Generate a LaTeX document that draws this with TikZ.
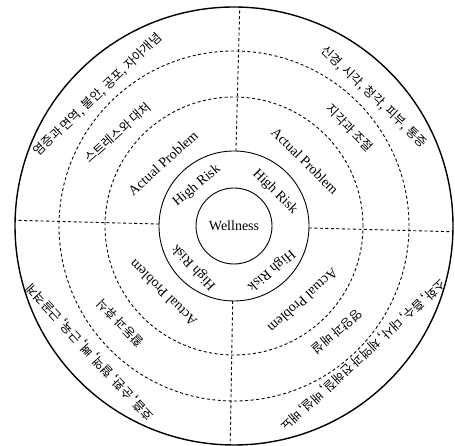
\documentclass[tikz,border=0pt]{standalone}
\usepackage{fontspec}
\setmainfont{Liberation Serif}
\newfontfamily\krfont{Noto Sans CJK KR}
\usetikzlibrary{positioning}

\begin{document}
\begin{tikzpicture}[x=1pt, y=1pt,
  ring/.style={draw, line width=0.9pt},
  outerring/.style={draw, line width=1.4pt},
  dashring/.style={draw, line width=0.9pt, dash pattern=on 3pt off 2.5pt},
  divider/.style={line width=0.9pt, dash pattern=on 3pt off 2.5pt},
  en/.style={font=\fontsize{14}{16}\selectfont, inner sep=0pt},
  kr/.style={font=\krfont\fontsize{12.5}{14}\selectfont, inner sep=0pt}
]
\useasboundingbox (0,0) rectangle (455,446);
\coordinate (c) at (234,220);

% Rings
\draw[outerring] (c) circle[radius=219];
\draw[dashring] (c) circle[radius=175];
\draw[dashring] (c) circle[radius=129];
\draw[ring] (c) circle[radius=75];
\draw[ring] (c) circle[radius=38];

% Quadrant dividers
\foreach \a in {88.5, 178.5, 269, -1.5} {
  \draw[divider] ([shift={(\a:75)}]c) -- ([shift={(\a:219)}]c);
}

\node[en] (well) at (c) {Wellness};

% Upper left
\node[en, rotate=40] (hrA) at ([shift={(132.8:54.5)}]c) {High Risk};
\node[en, rotate=42] (apA) at ([shift={(138.4:95)}]c) {Actual Problem};
\node[kr, rotate=41.5] (midA) at ([shift={(141.3:149)}]c) {스트레스와 대처};
\node[kr, rotate=43.6] (outA) at ([shift={(136.1:189)}]c) {염증과 면역, 불안, 공포, 자아개념};

% Upper right
\node[en, rotate=-45] (hrB) at ([shift={(39.7:53.3)}]c) {High Risk};
\node[en, rotate=-45] (apB) at ([shift={(42.5:96.3)}]c) {Actual Problem};
\node[kr, rotate=-45] (midB) at ([shift={(40.2:152)}]c) {지각과 조절};
\node[kr, rotate=-43.4] (outB) at ([shift={(42.7:190.4)}]c) {신경, 시각, 청각, 피부, 통증};

% Lower left
\node[en, rotate=133.5] (hrC) at ([shift={(225.7:57.3)}]c) {High Risk};
\node[en, rotate=135.4] (apC) at ([shift={(223.3:97.6)}]c) {Actual Problem};
\node[kr, rotate=134.4] (midC) at ([shift={(220.4:149.7)}]c) {활동과 휴식};
\node[kr, rotate=132.8] (outC) at ([shift={(221.2:191.3)}]c) {호흡, 순환, 혈액, 뼈, 근육, 근골격계};

% Lower right
\node[en, rotate=-140] (hrD) at ([shift={(310.1:57.5)}]c) {High Risk};
\node[en, rotate=-138] (apD) at ([shift={(312.6:101.9)}]c) {Actual Problem};
\node[kr, rotate=-140] (midD) at ([shift={(314.2:147.8)}]c) {영양과 배설};
\node[kr, rotate=-137.7] (outD) at ([shift={(315:182.4)}]c) {소화, 흡수, 대사, 체액과 전해질, 배설, 배뇨};
\end{tikzpicture}
\end{document}
